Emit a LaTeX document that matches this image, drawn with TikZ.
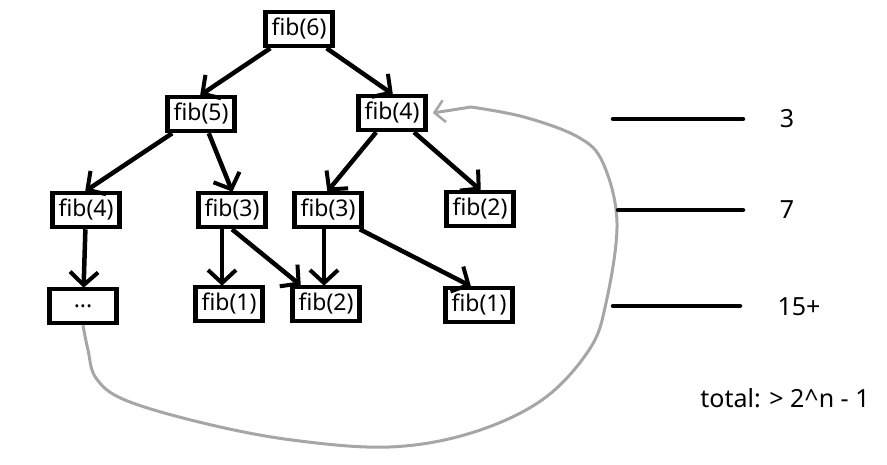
\documentclass[tikz,border=0pt]{standalone}
\usepackage{fontspec}
\setmainfont{Noto Sans}
\usetikzlibrary{arrows.meta}
\begin{document}
\begin{tikzpicture}[
    x=1pt, y=-1pt,
    node distance=95pt,
    call/.style={rectangle, draw, line width=4.5pt, fill=white, minimum width=67pt, minimum height=34pt, inner sep=1pt, font=\fontsize{23}{25}\selectfont},
    arrow/.style={-{Straight Barb[length=13pt, width=28pt, line width=4pt]}, line width=4.5pt, shorten >=-1pt},
    back/.style={-{Straight Barb[length=10pt, width=22pt, line width=2.5pt]}, line width=3pt, gray!70},
    level/.style={line width=4.5pt, line cap=round},
    lbl/.style={font=\fontsize{25}{27}\selectfont}
]
    \useasboundingbox (0,0) rectangle (887,464);

    % Call tree
    \node[call] (fib6) at (299,29) {fib(6)};
    \node[call, below of=fib6, xshift=-98pt, yshift=10pt] (fib5) {fib(5)};
    \node[call, below of=fib6, xshift=93pt, yshift=11pt] (fib4r) {fib(4)};

    \node[call, below of=fib5, xshift=-115pt, yshift=-1pt] (fib4l) {fib(4)};
    \node[call, below of=fib5, xshift=31pt, yshift=-1pt] (fib3m) {fib(3)};
    \node[call, below of=fib4r, xshift=-64pt, yshift=-2pt] (fib3r) {fib(3)};
    \node[call, below of=fib4r, xshift=88pt, yshift=-1pt] (fib2r) {fib(2)};

    \node[call, below of=fib4l, xshift=-3pt, yshift=-1pt] (dots) {...};
    \node[call, below of=fib3m, xshift=-3pt, yshift=1pt] (fib1m) {fib(1)};
    \node[call, below of=fib3r, xshift=-2pt, yshift=1pt] (fib2m) {fib(2)};
    \node[call, below of=fib2r, xshift=-1pt, yshift=-1pt] (fib1r) {fib(1)};

    % Arrows
    \draw[arrow] (fib6) -- (fib5.north);
    \draw[arrow] (fib6) -- (fib4r.north);

    \draw[arrow] (fib5) -- (fib4l.north);
    \draw[arrow] (fib5) -- (fib3m.north);
    \draw[arrow] (fib4r) -- (fib3r.north);
    \draw[arrow] (fib4r) -- (fib2r.north);

    \draw[arrow] (fib4l) -- (dots);
    \draw[arrow] ([xshift=-10pt]fib3m.south) -- ([xshift=-7pt]fib1m.north);
    \draw[arrow] (fib3m.south) -- ([xshift=-26pt]fib2m.north);
    \draw[arrow] ([xshift=-4pt]fib3r.south) -- ([xshift=-2pt]fib2m.north);
    \draw[arrow] ([xshift=-4pt]fib3r.south east) -- ([xshift=-9pt]fib1r.north);

    % Repeated work
    \draw[back] (dots.south) plot[smooth, tension=0.6] coordinates {(dots.south) (88,350) (96,378) (125,400) (203,423) (292,440) (389,447) (471,433) (542,400) (589,350) (606,303) (617,223) (603,163) (578,137) (524,117) (471,107)} -- ([xshift=5pt]fib4r.east);

    % Calls per level
    \draw[level] (613,119) -- (743,119);
    \draw[level] (618,210) -- (743,210);
    \draw[level] (613,306) -- (740,306);
    \node[lbl] (lvl3) at (787,119) {3};
    \node[lbl] (lvl7) at (787,210) {7};
    \node[lbl] (lvl15) at (799,307) {15+};
    \node[lbl] (total) at (785,398) {total: > 2\^{}n - 1};
\end{tikzpicture}
\end{document}
